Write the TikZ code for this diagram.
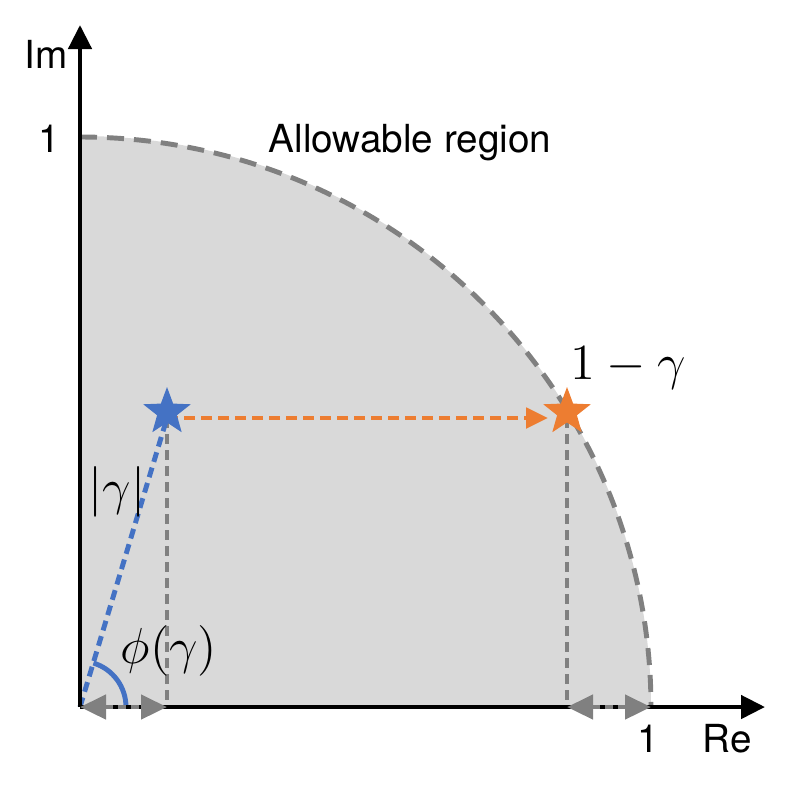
\documentclass[tikz,border=0pt]{standalone}
\usepackage[no-math]{fontspec}
\setmainfont{TeX Gyre Heros}
\usetikzlibrary{arrows.meta,shapes.geometric}
\definecolor{regiongray}{RGB}{217,217,217}
\definecolor{dashgray}{RGB}{128,128,128}
\definecolor{gammablue}{RGB}{68,114,196}
\definecolor{gammaorange}{RGB}{237,125,49}
\tikzset{
  axisline/.style={line width=1.3pt,-{Triangle[length=0.24cm,width=0.23cm]}},
  boundary/.style={dashgray,line width=1.4pt,dash pattern=on 0.17cm off 0.1cm},
  drop/.style={dashgray,line width=1.4pt,dash pattern=on 0.1cm off 0.06cm},
  spanarrow/.style={dashgray,line width=1.3pt,dash pattern=on 0.08cm off 0.05cm,
    {Triangle[length=0.26cm,width=0.24cm]}-{Triangle[length=0.26cm,width=0.24cm]}},
  starmark/.style={star,star points=5,star point ratio=2.4,minimum size=0.5cm,inner sep=0pt},
  txt/.style={font=\fontsize{11}{13}\selectfont},
  mathlbl/.style={font=\fontsize{14.5}{17}\selectfont}
}
\begin{document}
\begin{tikzpicture}
  \useasboundingbox (-0.80,-0.77) rectangle (7.09,7.07);
  % Points
  \coordinate (O) at (0,0);
  \coordinate (G) at (0.87,2.89);
  \coordinate (H) at (4.87,2.89);
  \coordinate (Gx) at (0.87,0);
  \coordinate (Hx) at (4.87,0);
  \coordinate (Rx) at (5.71,0);
  \coordinate (Xend) at (6.85,0);
  \coordinate (Yend) at (0,6.82);
  % Allowable region (quarter disc)
  \fill[regiongray] (O) -- (5.71,0) arc (0:90:5.71) -- cycle;
  \draw[boundary] (0,5.70) arc (90:0:5.71);
  % Drop lines to the real axis
  \draw[drop] (G) -- (Gx);
  \draw[drop] (H) -- (Hx);
  % Modulus and angle
  \draw[gammablue,line width=1.4pt,dash pattern=on 0.1cm off 0.06cm] (O) -- (G);
  \draw[gammablue,line width=1.4pt] (0.46,0) arc (0:73:0.46);
  % Shift to 1 - gamma
  \draw[gammaorange,line width=1.4pt,dash pattern=on 0.11cm off 0.06cm,
    -{Triangle[length=0.22cm,width=0.2cm]},shorten >=0.19cm] (G) -- (H);
  % Axes
  \draw[axisline] (O) -- (Xend);
  \draw[axisline] (O) -- (Yend);
  % Widths on the real axis
  \draw[spanarrow] (O) -- (Gx);
  \draw[spanarrow] (Hx) -- (Rx);
  % Stars
  \node[starmark,fill=gammablue] (gstar) at ([yshift=0.06cm]G) {};
  \node[starmark,fill=gammaorange] (hstar) at ([yshift=0.06cm]H) {};
  % Labels
  \node[txt,anchor=base] (imlabel) at (-0.34,6.39) {Im};
  \node[txt,anchor=base] (oney) at (-0.31,5.55) {1};
  \node[txt,anchor=base] (onex) at (5.68,-0.45) {1};
  \node[txt,anchor=base] (relabel) at (6.47,-0.45) {Re};
  \node[txt,anchor=base] (regionlabel) at (3.30,5.55) {Allowable region};
  \node[mathlbl,anchor=base west,inner xsep=0pt] (onemglabel) at (4.90,3.28) {$1-\gamma$};
  \node[mathlbl,anchor=base west,inner xsep=0pt] (anglabel) at (0.40,0.44) {$\phi(\gamma)$};
  \node[mathlbl,anchor=base west,inner xsep=0pt] (modlabel) at (0.08,2.03) {$|\gamma|$};
\end{tikzpicture}
\end{document}
